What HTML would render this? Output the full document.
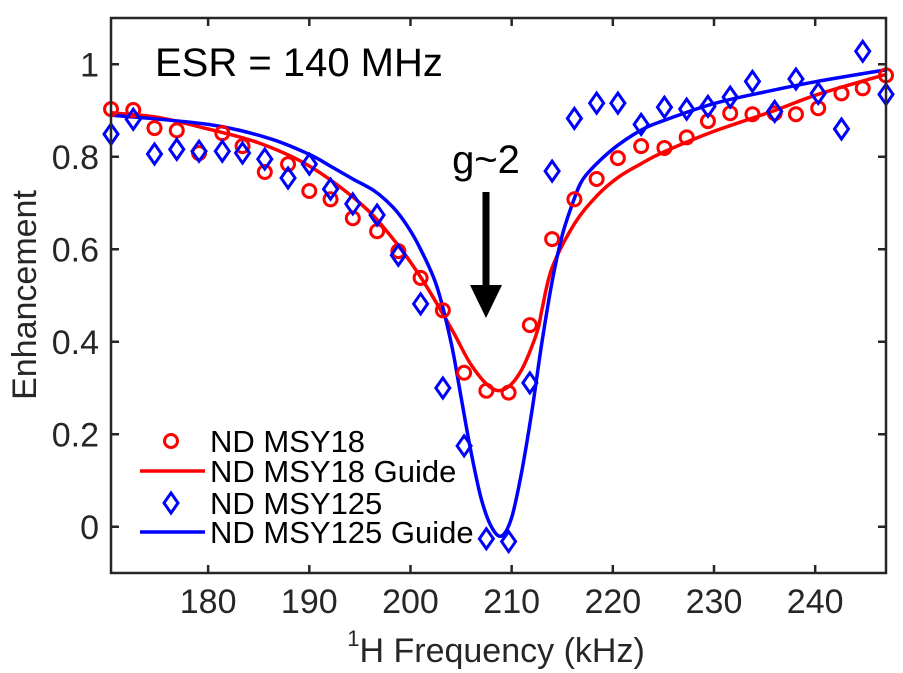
<!DOCTYPE html>
<html><head><meta charset="utf-8"><style>
html,body{margin:0;padding:0;background:#fff;}
svg{display:block;font-family:"Liberation Sans",Arial,sans-serif;}
</style></head><body>
<svg id="chart" width="903" height="673" viewBox="0 0 903 673">
<defs><clipPath id="clip"><rect x="111" y="18" width="775" height="555"/></clipPath></defs>
<g id="plot"></g>
<g id="axes"></g>
<text x="496" y="662" text-anchor="middle" font-size="34" fill="#262626"><tspan font-size="22" dy="-16">1</tspan><tspan dy="16">H Frequency (kHz)</tspan></text>
<text transform="translate(36,295) rotate(-90)" text-anchor="middle" font-size="34" fill="#262626">Enhancement</text>
<text x="155" y="76" font-size="40" fill="#000">ESR = 140 MHz</text>
<text x="486" y="173" text-anchor="middle" font-size="40" fill="#000">g~2</text>
<g>
<rect x="482.5" y="192" width="7" height="96" fill="#000"/>
<polygon points="470,285 502,285 486,318" fill="#000"/>
</g>
<g>
<g>
<circle cx="171" cy="441" r="6.5" fill="none" stroke="#ff0000" stroke-width="3"/>
<text x="210" y="452" font-size="31" fill="#000">ND MSY18</text></g>
<g>
<line x1="140" y1="471" x2="205" y2="471" stroke="#ff0000" stroke-width="3.5"/>
<text x="210" y="482" font-size="31" fill="#000">ND MSY18 Guide</text></g>
<g>
<path d="M171,493 L178,503 L171,513 L164,503 Z" fill="none" stroke="#0000ff" stroke-width="3"/>
<text x="210" y="514" font-size="31" fill="#000">ND MSY125</text></g>
<g>
<line x1="140" y1="532" x2="205" y2="532" stroke="#0000ff" stroke-width="3.5"/>
<text x="210" y="543" font-size="31" fill="#000">ND MSY125 Guide</text></g>
</g>
</svg>
<script>
const freqs = [170.4,172.6,174.7,176.9,179.1,181.4,183.4,185.6,187.9,190.0,192.1,194.3,196.7,198.8,201.0,203.2,205.3,207.5,209.7,211.8,214.0,216.2,218.4,220.5,222.8,225.1,227.3,229.4,231.6,233.8,236.0,238.1,240.3,242.6,244.7,247.0];
const msy18 = [0.903,0.901,0.862,0.857,0.808,0.851,0.823,0.767,0.784,0.726,0.708,0.667,0.639,0.596,0.538,0.468,0.333,0.294,0.290,0.436,0.622,0.708,0.752,0.797,0.823,0.819,0.842,0.877,0.894,0.892,0.894,0.892,0.905,0.937,0.948,0.976];
const msy125 = [0.849,0.881,0.806,0.816,0.812,0.812,0.808,0.795,0.754,0.784,0.730,0.698,0.674,0.587,0.482,0.300,0.175,-0.026,-0.032,0.311,0.769,0.883,0.916,0.916,0.870,0.907,0.903,0.909,0.929,0.963,0.898,0.968,0.937,0.860,1.028,0.935];
const guide18X = [170.4,175,180,185,190,195,198,201,204,206,208,209.5,211,212.5,213,214,216.2,218.4,220.5,222.8,225,230,236,240.3,247];
const guide18Y = [0.895,0.885,0.86,0.83,0.78,0.70,0.63,0.54,0.43,0.35,0.30,0.30,0.34,0.42,0.47,0.56,0.655,0.715,0.755,0.785,0.81,0.855,0.90,0.935,0.978];
const guide125X = [170.4,180,186,190,192.3,194.3,196.5,198.3,199.7,201,202.6,204,205,206,207,208,209,210,211,212,213,214,215,216.2,217,218.4,220.5,223,225,230,235,240,247];
const guide125Y = [0.89,0.87,0.84,0.805,0.777,0.752,0.725,0.69,0.65,0.60,0.52,0.40,0.28,0.16,0.06,0.0,-0.02,0.02,0.12,0.25,0.40,0.53,0.63,0.71,0.75,0.785,0.825,0.86,0.878,0.915,0.94,0.962,0.988];
const xTicks = [180,190,200,210,220,230,240];
const yTicks = [0,0.2,0.4,0.6,0.8,1];
const yTickLabels = ["0","0.2","0.4","0.6","0.8","1"];

const L=111,R=886,T=18,B=573, X0=170.4,X1=247.0, Y0=-0.1,Y1=1.1;
function sx(v){return L+(v-X0)/(X1-X0)*(R-L);}
function sy(v){return B-(v-Y0)/(Y1-Y0)*(B-T);}
const NS="http://www.w3.org/2000/svg";
const plot=document.getElementById('plot');
const axes=document.getElementById('axes');
function mk(tag,attrs,parent){const e=document.createElementNS(NS,tag);for(const k in attrs)e.setAttribute(k,attrs[k]);parent.appendChild(e);return e;}

function smoothPath(xs,ys){
  const p=xs.map((x,i)=>[sx(x),sy(ys[i])]);
  let d='M'+p[0][0].toFixed(1)+','+p[0][1].toFixed(1);
  for(let i=0;i<p.length-1;i++){
    const p0=p[Math.max(0,i-1)],p1=p[i],p2=p[i+1],p3=p[Math.min(p.length-1,i+2)];
    const c1=[p1[0]+(p2[0]-p0[0])/6,p1[1]+(p2[1]-p0[1])/6];
    const c2=[p2[0]-(p3[0]-p1[0])/6,p2[1]-(p3[1]-p1[1])/6];
    d+=' C'+c1.map(v=>v.toFixed(1))+' '+c2.map(v=>v.toFixed(1))+' '+p2.map(v=>v.toFixed(1));
  }
  return d;
}

const g18=mk('path',{d:smoothPath(guide18X,guide18Y),fill:'none',stroke:'#ff0000','stroke-width':3.5,'clip-path':'url(#clip)'},plot);


const g125=mk('path',{d:smoothPath(guide125X,guide125Y),fill:'none',stroke:'#0000ff','stroke-width':3.5,'clip-path':'url(#clip)'},plot);



function diamond(cx,cy){return `M${cx},${cy-10} L${cx+7},${cy} L${cx},${cy+10} L${cx-7},${cy} Z`;}
msy18.forEach((v,i)=>{
  const c=mk('circle',{cx:sx(freqs[i]),cy:sy(v),r:6.5,fill:'none',stroke:'#ff0000','stroke-width':3},plot);
  
  
});
msy125.forEach((v,i)=>{
  const d=mk('path',{d:diamond(sx(freqs[i]),sy(v)),fill:'none',stroke:'#0000ff','stroke-width':3},plot);
  
  
});

const box=mk('rect',{x:L,y:T,width:R-L,height:B-T,fill:'none',stroke:'#262626','stroke-width':2.5},axes);


xTicks.forEach(t=>{
  const x=sx(t);
  mk('line',{x1:x,y1:B,x2:x,y2:B-8,stroke:'#262626','stroke-width':2.5},axes);
  mk('line',{x1:x,y1:T,x2:x,y2:T+8,stroke:'#262626','stroke-width':2.5},axes);
  const tx=mk('text',{x:x,y:613,'text-anchor':'middle','font-size':34,fill:'#262626'},axes);
  tx.textContent=t;
  
  
});
yTicks.forEach((t,i)=>{
  const y=sy(t);
  mk('line',{x1:L,y1:y,x2:L+8,y2:y,stroke:'#262626','stroke-width':2.5},axes);
  mk('line',{x1:R,y1:y,x2:R-8,y2:y,stroke:'#262626','stroke-width':2.5},axes);
  const tx=mk('text',{x:99,y:y+12,'text-anchor':'end','font-size':34,fill:'#262626'},axes);
  tx.textContent=yTickLabels[i];
  
  
});
</script>
</body></html>
